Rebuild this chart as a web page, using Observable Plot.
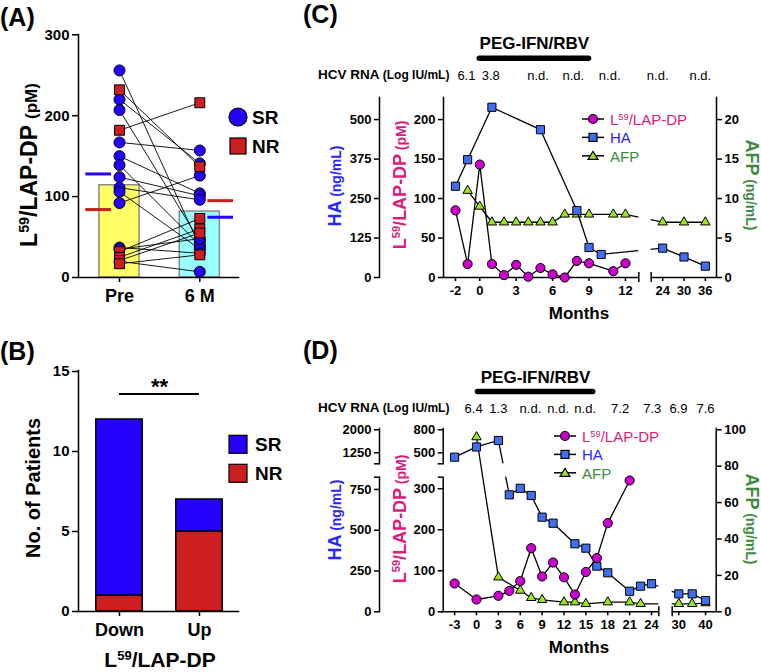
<!DOCTYPE html>
<html><head><meta charset="utf-8">
<script src="https://cdn.jsdelivr.net/npm/d3@7"></script>
<script src="https://cdn.jsdelivr.net/npm/@observablehq/plot@0.6"></script>
<style>
html,body{margin:0;padding:0;background:#fff;}
#page{position:relative;width:761px;height:672px;overflow:hidden;font-family:'Liberation Sans',Arial,Helvetica,sans-serif;}
.t{position:absolute;white-space:nowrap;line-height:1;}
sup{font-size:0.62em;vertical-align:0.5em;line-height:0;}
</style></head><body><div id="page"></div>
<script>
const W = 761, H = 672;
const FONT = "'Liberation Sans', Arial, Helvetica, sans-serif";

// ---------------- Panel A data ----------------
const groupsA = ["Pre", "6 M"];
const barMeansA = [114, 81.5];
const srMeansA = [128, 74.5];
const nrMeansA = [84, 95];
const srPre  = [256, 220, 207, 167, 150, 139, 124, 111, 106, 92, 37, 35, 20];
const srPost = [38, 141, 45, 157, 104, 40, 101, 96, 35, 126, 30, 48, 7];
const nrPre  = [232, 182, 32, 25, 21, 17];
const nrPost = [137, 216, 73, 60, 55, 28];
const ticksYA = [0, 100, 200, 300];
const legendLabels = ["SR", "NR"];

// ---------------- Panel B data ----------------
const catsB = ["Down", "Up"];
const srCountsB = [11, 2];
const nrCountsB = [1, 5];
const sigB = 13.6;
const sigLabelB = "**";
const ticksYB = [0, 5, 10, 15];

// ---------------- Panel C data ----------------
const monthsC_L59 = [-2, -1, 0, 1, 2, 3, 4, 5, 6, 7, 8, 9, 11, 12];
const l59C        = [85, 17, 143, 17, 3, 16, 1, 12, 4, 0, 21, 18, 8, 18];
const monthsC_HA  = [-2, -1, 1, 5, 8, 9, 10, 24, 30, 36];
const haC         = [289, 373, 539, 468, 212, 95, 73, 93, 65, 36];
const monthsC_AFP = [-1, 0, 1, 2, 3, 4, 5, 6, 7, 8, 9, 11, 12, 24, 30, 36];
const afpC        = [11, 9, 7, 7, 7, 7, 7, 7, 8, 8, 8, 8, 8, 7, 7, 7];
const hcvC    = ["6.1", "3.8", "n.d.", "n.d.", "n.d.", "n.d.", "n.d."];
const hcvPosC = [-1.1, 0.9, 4.8, 7.7, 10.7, 22.6, 34.6];
const treatC  = [0, 9];
const ticksXC = [-2, 0, 3, 6, 9, 12, 24, 30, 36];
const ticksHAC = [0, 125, 250, 375, 500];
const ticksL59C = [0, 50, 100, 150, 200];
const ticksAFPC = [0, 5, 10, 15, 20];

// ---------------- Panel D data ----------------
const monthsD_L59 = [-3, 0, 3, 4.5, 6, 7.5, 9, 10.5, 12, 13.5, 15, 16.5, 18, 21];
const l59D        = [69, 30, 39, 51, 75, 155, 86, 120, 84, 42, 97, 131, 216, 320];
const monthsD_HA  = [-3, 0, 3, 4.5, 6, 7.5, 9, 10.5, 13.5, 15, 16.5, 18, 21, 22.5, 24, 30, 35, 40];
const haD         = [1107, 1440, 1651, 717, 757, 713, 580, 543, 417, 390, 280, 239, 126, 157, 172, 110, 110, 69];
const monthsD_AFP = [0, 3, 6, 7.5, 9, 12, 13.5, 15, 18, 21, 22.5, 30, 35, 40];
const afpD        = [96, 19, 11.7, 7.7, 6.6, 5.3, 5.3, 4.4, 5.3, 5.3, 4.4, 4.4, 4.4, 4.8];
const hcvD    = ["6.4", "1.3", "n.d.", "n.d.", "n.d.", "7.2", "7.3", "6.9", "7.6"];
const hcvPosD = [-0.4, 3.0, 7.4, 11.2, 14.9, 19.7, 24.1, 29.9, 40];
const treatD  = [0.2, 16];
const ticksXD = [-3, 0, 3, 6, 9, 12, 15, 18, 21, 24, 30, 40];
const ticksHAD_lo = [0, 250, 500, 750], ticksHAD_hi = [1250, 2000];
const ticksL59D_lo = [0, 100, 200, 300], ticksL59D_hi = [500, 800];
const ticksAFPD = [0, 20, 40, 60, 80, 100];
const pegLabel = "PEG-IFN/RBV";
const seriesNames = ["L<sup>59</sup>/LAP-DP", "HA", "AFP"];

// ---------------- colours ----------------
const BLUE = "#2400ff", RED = "#cc1f1f", YELLOW = "#ffff66", CYAN = "#99ffff";
const MAG = "#cc00cc", HABLUE = "#3f6ff0", AFPG = "#99e61a";
const TMAG = "#dc1a7e", TBLUE = "#2626ff", TGREEN = "#3d8b3d";
const fmt = d => String(d);

const page = document.getElementById("page");
function layer({size = 13, ...opts}) {
  const svg = Plot.plot({
    width: W, height: H, marginTop: 0, marginRight: 0, marginBottom: 0, marginLeft: 0,
    color: {type: "identity"},
    ...opts,
    style: `background: transparent; overflow: visible; font-family: ${FONT}; font-weight: bold; font-size: ${size}px;`
  });
  svg.style.position = "absolute"; svg.style.left = "0px"; svg.style.top = "0px";
  page.appendChild(svg);
  return svg;
}

// ================= Panel A =================
const pairsA = [
  ...srPre.map((p, i) => ({pre: p, post: srPost[i], g: "SR"})),
  ...nrPre.map((p, i) => ({pre: p, post: nrPost[i], g: "NR"}))
];
const srA = pairsA.filter(d => d.g === "SR"), nrA = pairsA.filter(d => d.g === "NR");
const barsA = groupsA.map((g, i) => ({i, v: barMeansA[i], fill: [YELLOW, CYAN][i]}));
const side = i => (i === 0 ? -1 : 1);
const meansA = [
  ...srMeansA.map((v, i) => ({i, v, c: BLUE})),
  ...nrMeansA.map((v, i) => ({i, v, c: RED}))
].map(d => ({...d, x1: d.i + side(d.i) * 0.1, x2: d.i + side(d.i) * 0.42}));

layer({
  size: 15,
  marginLeft: 78, marginRight: W - 238, marginTop: 34, marginBottom: H - 277,
  x: {type: "linear", domain: [0, 1], range: [119, 199.3], axis: null},
  y: {type: "linear", domain: [0, 300], range: [277, 34.3], axis: null},
  marks: [
    Plot.rect(barsA, {x1: d => d.i - 0.25, x2: d => d.i + 0.25, y1: 0, y2: "v", fill: "fill", stroke: "#8a8a8a", strokeWidth: 1.5}),
    Plot.ruleY(meansA, {x1: "x1", x2: "x2", y: "v", stroke: "c", strokeWidth: 3}),
    Plot.link(pairsA, {x1: 0, x2: 1, y1: "pre", y2: "post", stroke: "black", strokeWidth: 0.9}),
    Plot.dot(srA, {x: 0, y: "pre", r: 5.5, fill: BLUE, stroke: "black", strokeWidth: 1}),
    Plot.dot(srA, {x: 1, y: "post", r: 5.5, fill: BLUE, stroke: "black", strokeWidth: 1}),
    Plot.dot(nrA, {x: 0, y: "pre", symbol: "square", r: 5.6, fill: RED, stroke: "black", strokeWidth: 1}),
    Plot.dot(nrA, {x: 1, y: "post", symbol: "square", r: 5.6, fill: RED, stroke: "black", strokeWidth: 1}),
    Plot.frame({anchor: "left", strokeWidth: 1.5}),
    Plot.frame({anchor: "bottom", strokeWidth: 1.5}),
    Plot.axisY(ticksYA, {anchor: "left", tickSize: 6, tickPadding: 3, tickFormat: fmt, strokeWidth: 1.5, label: null}),
    Plot.axisX([0, 1], {anchor: "bottom", tickSize: 5, tickPadding: 7, tickFormat: i => groupsA[i], fontSize: 18, strokeWidth: 1.5, label: null})
  ]
});

// ================= Panel B =================
const stackB = catsB.flatMap((c, i) => [
  {i, y1: 0, y2: nrCountsB[i], fill: RED},
  {i, y1: nrCountsB[i], y2: nrCountsB[i] + srCountsB[i], fill: BLUE}
]);
layer({
  size: 15,
  marginLeft: 78, marginRight: W - 238, marginTop: 370, marginBottom: H - 611,
  x: {type: "linear", domain: [0, 1], range: [119, 199], axis: null},
  y: {type: "linear", domain: [0, 15], range: [611, 371], axis: null},
  marks: [
    Plot.rect(stackB, {x1: d => d.i - 0.29, x2: d => d.i + 0.29, y1: "y1", y2: "y2", fill: "fill", stroke: "black", strokeWidth: 1.5}),
    Plot.ruleY([sigB], {x1: 0, x2: 1, y: d => d, strokeWidth: 2}),
    Plot.text([sigLabelB], {x: [0.5], y: [sigB], dy: -7, fontSize: 22, fontWeight: "bold"}),
    Plot.frame({anchor: "left", strokeWidth: 1.5}),
    Plot.frame({anchor: "bottom", strokeWidth: 1.5}),
    Plot.axisY(ticksYB, {anchor: "left", tickSize: 6, tickPadding: 3, tickFormat: fmt, strokeWidth: 1.5, label: null}),
    Plot.axisX([0, 1], {anchor: "bottom", tickSize: 5, tickPadding: 7, tickFormat: i => catsB[i], fontSize: 18, strokeWidth: 1.5, label: null})
  ]
});

// ================= Panels C & D =================
function timeline(P) {
  const xOpt = {type: "linear", domain: P.xDomain, range: P.xRange, axis: null};
  const frameM = {marginLeft: P.xRange[0], marginRight: W - P.xRange[P.xRange.length - 1], marginTop: P.top, marginBottom: H - P.base};
  // y axes (possibly broken into pieces)
  for (const a of P.axes) {
    const left = a.side === "left";
    const marks = [
      Plot.frame({anchor: a.side, strokeWidth: 1.5}),
      Plot.axisY(a.ticks, {anchor: a.side, tickSize: 5, tickPadding: 3, tickFormat: fmt, strokeWidth: 1.5, label: null})
    ];
    if (a.ends) marks.push(Plot.axisY(a.ends, {anchor: a.side, tickSize: 5, tickFormat: () => "", strokeWidth: 1.5, label: null}));
    layer({
      marginLeft: left ? a.at : a.at - 1, marginRight: left ? W - a.at - 1 : W - a.at,
      marginTop: a.range[1], marginBottom: H - a.range[0],
      y: {type: "linear", domain: a.domain, range: a.range, axis: null},
      marks
    });
  }
  // data series, bottom to top
  P.series.forEach((s, k) => {
    const data = s.months.map((m, i) => ({m, v: s.values[i]}));
    const yRange = s.yRange || [P.base, P.top];
    const yMin = s.yDomain[0], yMax = s.yDomain[s.yDomain.length - 1];
    const marks = [];
    const top = k === P.series.length - 1;
    if (top) {
      marks.push(
        Plot.rect([P.gap], {x1: d => d[0], x2: d => d[1], y1: yMin, y2: yMax, fill: "white"}),
        Plot.ruleY(P.segments, {x1: d => d[0], x2: d => d[1], y: yMin, strokeWidth: 1.5}),
        Plot.ruleX(P.gap, {x: d => d, y1: yMin, y2: yMin, insetTop: -5, insetBottom: -5, strokeWidth: 1.5}),
        Plot.axisX(P.xTicks, {anchor: "bottom", tickSize: 4, tickPadding: 4, tickFormat: fmt, strokeWidth: 1.5, label: null})
      );
    }
    marks.push(Plot.line(data, {x: "m", y: "v", stroke: "black", strokeWidth: 1.3}));
    if (s.brk) {
      const cross = [];
      for (let i = 0; i < data.length - 1; i++) {
        const a = data[i], b = data[i + 1];
        if ((a.v > s.brk[1] && b.v < s.brk[0]) || (a.v < s.brk[0] && b.v > s.brk[1])) cross.push({x1: a.m, x2: b.m});
      }
      marks.push(Plot.rect(cross, {x1: "x1", x2: "x2", y1: s.brk[0], y2: s.brk[1], fill: "white"}));
    }
    marks.push(Plot.dot(data, {x: "m", y: "v", symbol: s.symbol, r: s.r, fill: s.fill, stroke: "black", strokeWidth: 1}));
    if (top) {
      marks.push(
        Plot.ruleY([P.treat], {x1: d => d[0], x2: d => d[1], y: yMin, dy: P.pegBarY - P.base, strokeWidth: 5.5, strokeLinecap: "round"}),
        Plot.text([pegLabel], {x: [(P.treat[0] + P.treat[1]) / 2], frameAnchor: "top", lineAnchor: "middle", dy: P.pegTextY - P.top, fontSize: 17, fontWeight: "bold"}),
        Plot.text(P.hcv, {x: P.hcvPos, frameAnchor: "top", lineAnchor: "middle", dy: P.hcvY - P.top, fontSize: 13, fontWeight: "normal"})
      );
    }
    layer({...frameM, x: xOpt, y: {type: "linear", domain: s.yDomain, range: yRange, axis: null}, marks});
  });
}

timeline({
  xDomain: [-3.07, 13.1, 20.77, 39.14], xRange: [442, 638.3, 650.7, 716],
  top: 97, base: 277,
  gap: [13.1, 20.77], segments: [[-3.07, 13.1], [20.77, 39.14]],
  xTicks: ticksXC, treat: treatC, hcv: hcvC, hcvPos: hcvPosC,
  pegBarY: 57.7, pegTextY: 43, hcvY: 75,
  axes: [
    {side: "left", at: 379, domain: [0, 570], range: [277, 97], ticks: ticksHAC},
    {side: "left", at: 443, domain: [0, 228], range: [277, 97], ticks: ticksL59C},
    {side: "right", at: 716, domain: [0, 22.8], range: [277, 97], ticks: ticksAFPC}
  ],
  series: [
    {months: monthsC_AFP, values: afpC, yDomain: [0, 22.8], symbol: "triangle", r: 3.5, fill: AFPG},
    {months: monthsC_HA, values: haC, yDomain: [0, 570], symbol: "square", r: 4.6, fill: HABLUE},
    {months: monthsC_L59, values: l59C, yDomain: [0, 228], symbol: "circle", r: 4.6, fill: MAG}
  ]
});

const yRangeD = [611.3, 476.7, 463.3, 428];
timeline({
  xDomain: [-4.8, 25, 27.53, 43.98], xRange: [441, 658.3, 671.7, 715.7],
  top: 428, base: 611.3,
  gap: [25, 27.53], segments: [[-4.8, 25], [27.53, 43.98]],
  xTicks: ticksXD, treat: treatD, hcv: hcvD, hcvPos: hcvPosD,
  pegBarY: 391, pegTextY: 377, hcvY: 408,
  axes: [
    {side: "left", at: 379, domain: [0, 825], range: [611.3, 476.7], ticks: ticksHAD_lo, ends: [825]},
    {side: "left", at: 379, domain: [891, 2042], range: [463.3, 428], ticks: ticksHAD_hi, ends: [891]},
    {side: "left", at: 442.7, domain: [0, 328], range: [611.3, 476.7], ticks: ticksL59D_lo, ends: [328]},
    {side: "left", at: 442.7, domain: [357, 817], range: [463.3, 428], ticks: ticksL59D_hi, ends: [357]},
    {side: "right", at: 715.7, domain: [0, 100.7], range: [611.3, 428], ticks: ticksAFPD}
  ],
  series: [
    {months: monthsD_AFP, values: afpD, yDomain: [0, 100.7], symbol: "triangle", r: 3.5, fill: AFPG},
    {months: monthsD_HA, values: haD, yDomain: [0, 825, 891, 2042], yRange: yRangeD, brk: [825, 891], symbol: "square", r: 4.6, fill: HABLUE},
    {months: monthsD_L59, values: l59D, yDomain: [0, 328, 357, 817], yRange: yRangeD, symbol: "circle", r: 4.6, fill: MAG}
  ]
});

// ================= Text & legends =================
function txt(html, x, y, {size = 13, weight = "bold", color = "#000", anchor = "middle", rotate = 0} = {}) {
  const d = document.createElement("div");
  d.className = "t";
  d.innerHTML = html;
  d.style.left = x + "px"; d.style.top = y + "px";
  d.style.fontSize = size + "px"; d.style.fontWeight = weight; d.style.color = color;
  const tx = anchor === "start" ? "0" : anchor === "end" ? "-100%" : "-50%";
  d.style.transform = `translate(${tx}, -50%)` + (rotate ? ` rotate(${rotate}deg)` : "");
  page.appendChild(d);
}
txt("(A)", 0, 17, {size: 25, anchor: "start"});
txt("(B)", 0, 351, {size: 25, anchor: "start"});
txt("(C)", 303, 14, {size: 25, anchor: "start"});
txt("(D)", 303, 350, {size: 25, anchor: "start"});

txt(`L<sup>59</sup>/LAP-DP <span style="font-size:17px">(pM)</span>`, 29, 165, {size: 23, rotate: -90});
txt("No. of Patients", 33, 488, {size: 20, rotate: -90});
txt(`L<sup>59</sup>/LAP-DP`, 160, 659, {size: 21});

const haTitle = `<span style="font-size:18px">HA</span> <span style="font-size:14px">(ng/mL)</span>`;
const l59Title = `<span style="font-size:18px">L<sup>59</sup>/LAP-DP</span> <span style="font-size:14px">(pM)</span>`;
const afpTitle = `<span style="font-size:18px">AFP</span> <span style="font-size:14px">(ng/mL)</span>`;
const hcvTitle = `HCV RNA <span style="font-size:12px">(Log IU/mL)</span>`;
for (const [yc, ym, yh] of [[186, 313, 75], [520, 647, 408]]) {
  txt(haTitle, 335, yc, {color: TBLUE, rotate: -90});
  txt(l59Title, 400, yc - 1, {color: TMAG, rotate: -90});
  txt(afpTitle, 752, yc - 1, {color: TGREEN, rotate: 90});
  txt("Months", 579, ym, {size: 17});
  txt(hcvTitle, 318, yh, {size: 13.5, anchor: "start"});
}

// legend symbols
let leg = "";
function sym(kind, cx, cy, s, fill, line) {
  if (line) leg += `<line x1="${cx - line}" y1="${cy}" x2="${cx + line}" y2="${cy}" stroke="black" stroke-width="1.5"/>`;
  if (kind === "circle") leg += `<circle cx="${cx}" cy="${cy}" r="${s}" fill="${fill}" stroke="black" stroke-width="1.2"/>`;
  if (kind === "square") leg += `<rect x="${cx - s}" y="${cy - s}" width="${2 * s}" height="${2 * s}" fill="${fill}" stroke="black" stroke-width="1.2"/>`;
  if (kind === "triangle") leg += `<polygon points="${cx},${cy - s} ${cx + s * 1.1},${cy + s * 0.8} ${cx - s * 1.1},${cy + s * 0.8}" fill="${fill}" stroke="black" stroke-width="1.2"/>`;
}
sym("circle", 238, 117, 9, BLUE); txt(legendLabels[0], 252, 117, {size: 19, anchor: "start"});
sym("square", 238, 146, 8, RED); txt(legendLabels[1], 252, 146, {size: 19, anchor: "start"});
sym("square", 238, 444.3, 9, BLUE); txt(legendLabels[0], 255, 444.3, {size: 19, anchor: "start"});
sym("square", 238, 473.3, 9, RED); txt(legendLabels[1], 255, 473.3, {size: 19, anchor: "start"});
for (const [lx, ly] of [[593, 119], [565, 436]]) {
  const cols = [TMAG, TBLUE, TGREEN];
  [["circle", 4.5, MAG], ["square", 4, HABLUE], ["triangle", 4.5, AFPG]].forEach(([k, s, f], i) => {
    sym(k, lx, ly + i * 18.4, s, f, 11);
    txt(seriesNames[i], lx + 17, ly + i * 18.4, {size: 15, weight: "normal", color: cols[i], anchor: "start"});
  });
}
const legSvg = document.createElementNS("http://www.w3.org/2000/svg", "svg");
legSvg.setAttribute("width", W); legSvg.setAttribute("height", H);
legSvg.style.position = "absolute"; legSvg.style.left = "0px"; legSvg.style.top = "0px";
legSvg.innerHTML = leg;
page.appendChild(legSvg);
</script></body></html>
